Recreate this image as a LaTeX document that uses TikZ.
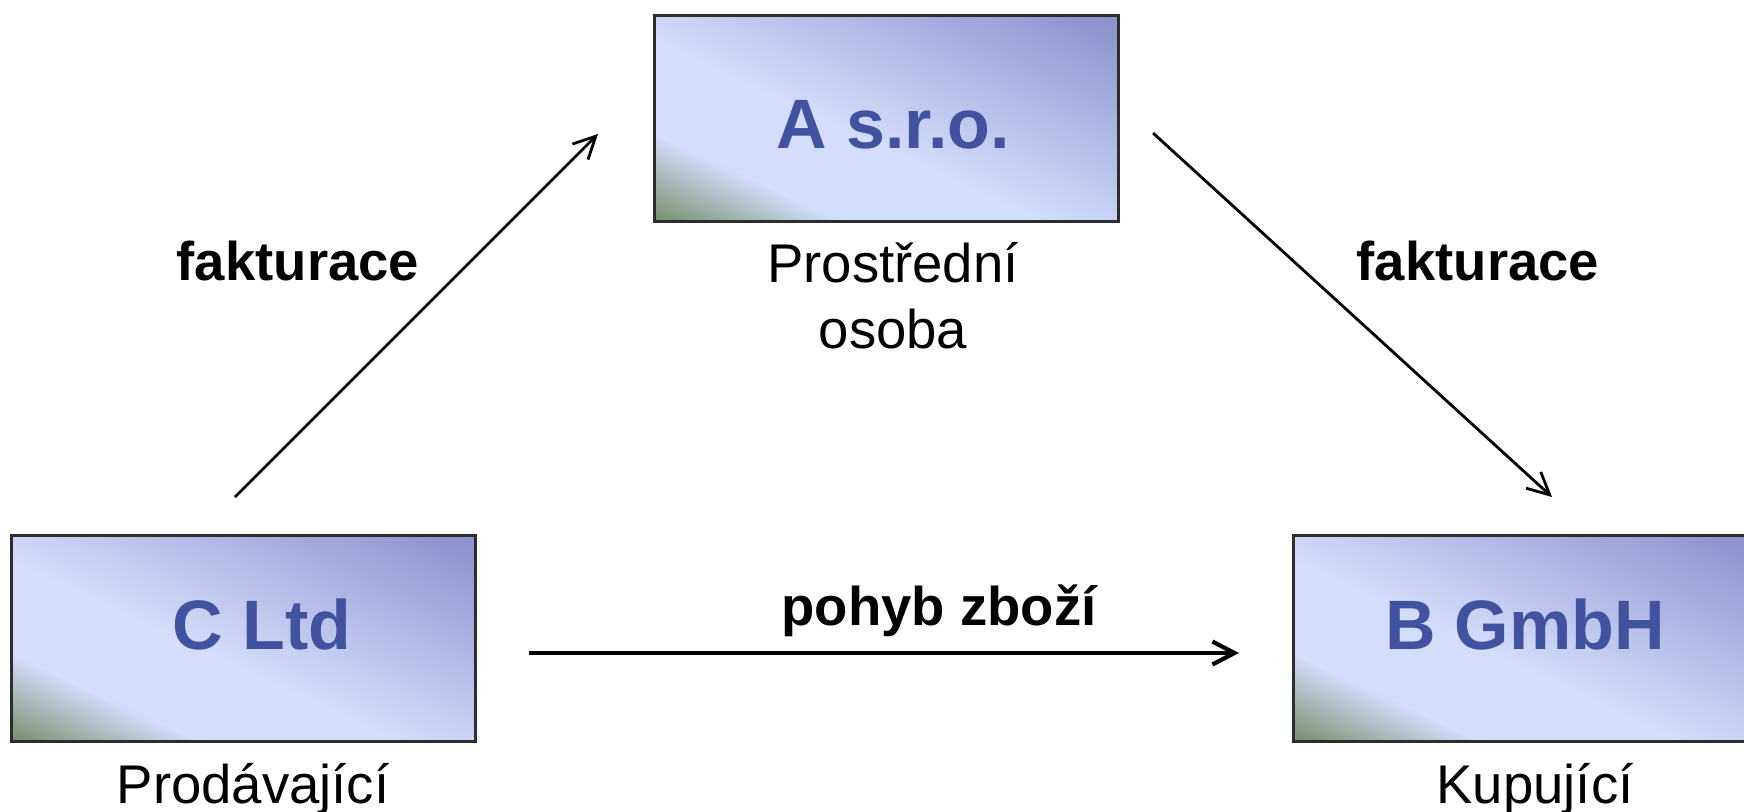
\documentclass[tikz,border=0pt]{standalone}
\usepackage{fontspec}
\setmainfont{Liberation Sans}
\usetikzlibrary{arrows.meta}
\definecolor{bgreen}{RGB}{112,138,100}
\definecolor{blight}{RGB}{212,221,252}
\definecolor{bdark}{RGB}{128,131,196}
\definecolor{boxtext}{RGB}{65,82,158}
\definecolor{boxline}{RGB}{45,45,45}
\pgfdeclarehorizontalshading{boxshade}{100bp}{color(0bp)=(bgreen); color(29bp)=(bgreen); color(38bp)=(blight); color(47bp)=(blight); color(73.9bp)=(bdark); color(100bp)=(bdark)}
\begin{document}
\begin{tikzpicture}[x=0.01cm,y=-0.01cm,
  firm/.style={draw=boxline, line width=0.8pt,
    path picture={
      \shade[shading=boxshade,
        transform canvas={rotate around={65:(path picture bounding box.center)}}]
        ([shift={(-200,-270)}]path picture bounding box.center) rectangle
        ([shift={(200,270)}]path picture bounding box.center);
    },
    minimum width=4.64cm, minimum height=2.06cm, inner sep=0pt, anchor=north west},
  firmname/.style={anchor=base, text=boxtext, inner sep=0pt, font=\fontsize{19.9pt}{24pt}\selectfont\bfseries},
  role/.style={anchor=base, inner sep=0pt, font=\fontsize{15.5pt}{18.6pt}\selectfont},
  flowlabel/.style={anchor=base, inner sep=0pt, font=\fontsize{15.5pt}{18.6pt}\selectfont\bfseries},
  flow/.style={-{Straight Barb[length=2.2mm,width=2.2mm]}, line width=0.8pt},
  goods/.style={-{Straight Barb[length=2.2mm,width=2.3mm]}, line width=1.2pt}]
\useasboundingbox (0,0) rectangle (1744,812);
% boxes
\node[firm] (A) at (653,14) {};
\node[firm] (C) at (10,534) {};
\node[firm] (B) at (1292,534) {};
% firm names
\node[firmname] (tA) at (893,148) {A s.r.o.};
\node[firmname] (tC) at (262,649) {C Ltd};
\node[firmname] (tB) at (1525,649) {B GmbH};
% roles
\node[role] (rA1) at (893,282) {Prostřední};
\node[role] (rA2) at (893,348) {osoba};
\node[role] (rC) at (253,803) {Prodávající};
\node[role] (rB) at (1535,803) {Kupující};
% flow labels
\node[flowlabel] (f1) at (298,280) {fakturace};
\node[flowlabel] (f2) at (1478,280) {fakturace};
\node[flowlabel] (g) at (939,625) {pohyb zboží};
% connector ends
\coordinate (fs1) at (235,497);
\coordinate (fe1) at (598,134);
\coordinate (fs2) at (1153,133);
\coordinate (fe2) at (1552,497);
\coordinate (gs) at (529,653);
\coordinate (ge) at (1239,653);
\draw[flow] (fs1) -- (fe1);
\draw[flow] (fs2) -- (fe2);
\draw[goods] (gs) -- (ge);
\end{tikzpicture}
\end{document}
